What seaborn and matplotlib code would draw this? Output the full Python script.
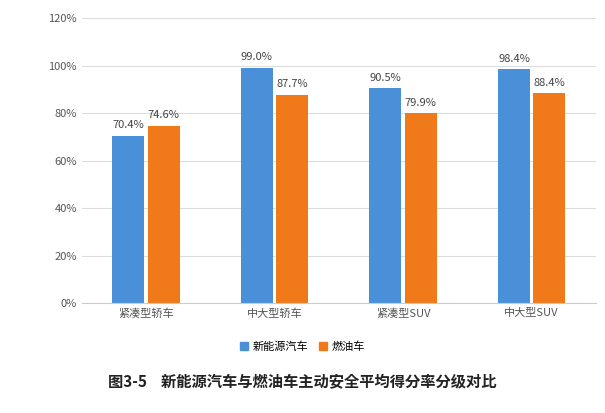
import pandas as pd
import matplotlib.pyplot as plt
import seaborn as sns
from matplotlib.ticker import PercentFormatter

plt.rcParams['font.family'] = ['Noto Sans CJK SC', 'Noto Sans CJK JP', 'Noto Sans CJK TC', 'DejaVu Sans']
plt.rcParams['axes.unicode_minus'] = False

categories = ['紧凑型轿车', '中大型轿车', '紧凑型SUV', '中大型SUV']
nev_scores = [70.4, 99.0, 90.5, 98.4]
fuel_scores = [74.6, 87.7, 79.9, 88.4]
series_names = ['新能源汽车', '燃油车']

df = pd.DataFrame({
    '车型': categories * 2,
    '得分率': nev_scores + fuel_scores,
    '类型': [series_names[0]] * 4 + [series_names[1]] * 4,
})

fig = plt.figure(figsize=(6.05, 4.13), dpi=100)
ax = fig.add_axes([0.135, 0.266, 0.85, 0.69])
sns.barplot(data=df, x='车型', y='得分率', hue='类型', ax=ax,
            palette=['#4a90d9', '#f07a1a'], width=0.55, gap=0.1,
            legend=False, saturation=1)

for cont in ax.containers:
    ax.bar_label(cont, fmt='%.1f%%', padding=4, fontsize=8, color='#444444')

ax.set_ylim(0, 120)
ax.set_yticks(range(0, 121, 20))
ax.yaxis.set_major_formatter(PercentFormatter(decimals=0))
ax.grid(axis='y', color='#dddddd', linewidth=0.8)
ax.set_axisbelow(True)
for s in ['top', 'right', 'left']:
    ax.spines[s].set_visible(False)
ax.spines['bottom'].set_color('#cccccc')
ax.tick_params(length=0, labelsize=8, colors='#555555')
ax.set_xlabel('')
ax.set_ylabel('')

handles = [plt.Rectangle((0, 0), 1, 1, color=c) for c in ['#4a90d9', '#f07a1a']]
fig.legend(handles, series_names, loc='center', bbox_to_anchor=(0.5, 0.16),
           ncol=2, frameon=False, fontsize=8, handlelength=0.7, handleheight=0.7,
           columnspacing=1.0, handletextpad=0.4)
fig.text(0.5, 0.075, '图3-5    新能源汽车与燃油车主动安全平均得分率分级对比',
         ha='center', va='center', fontsize=11, fontweight='bold', color='#222222')

fig.savefig('out.png', dpi=100)
